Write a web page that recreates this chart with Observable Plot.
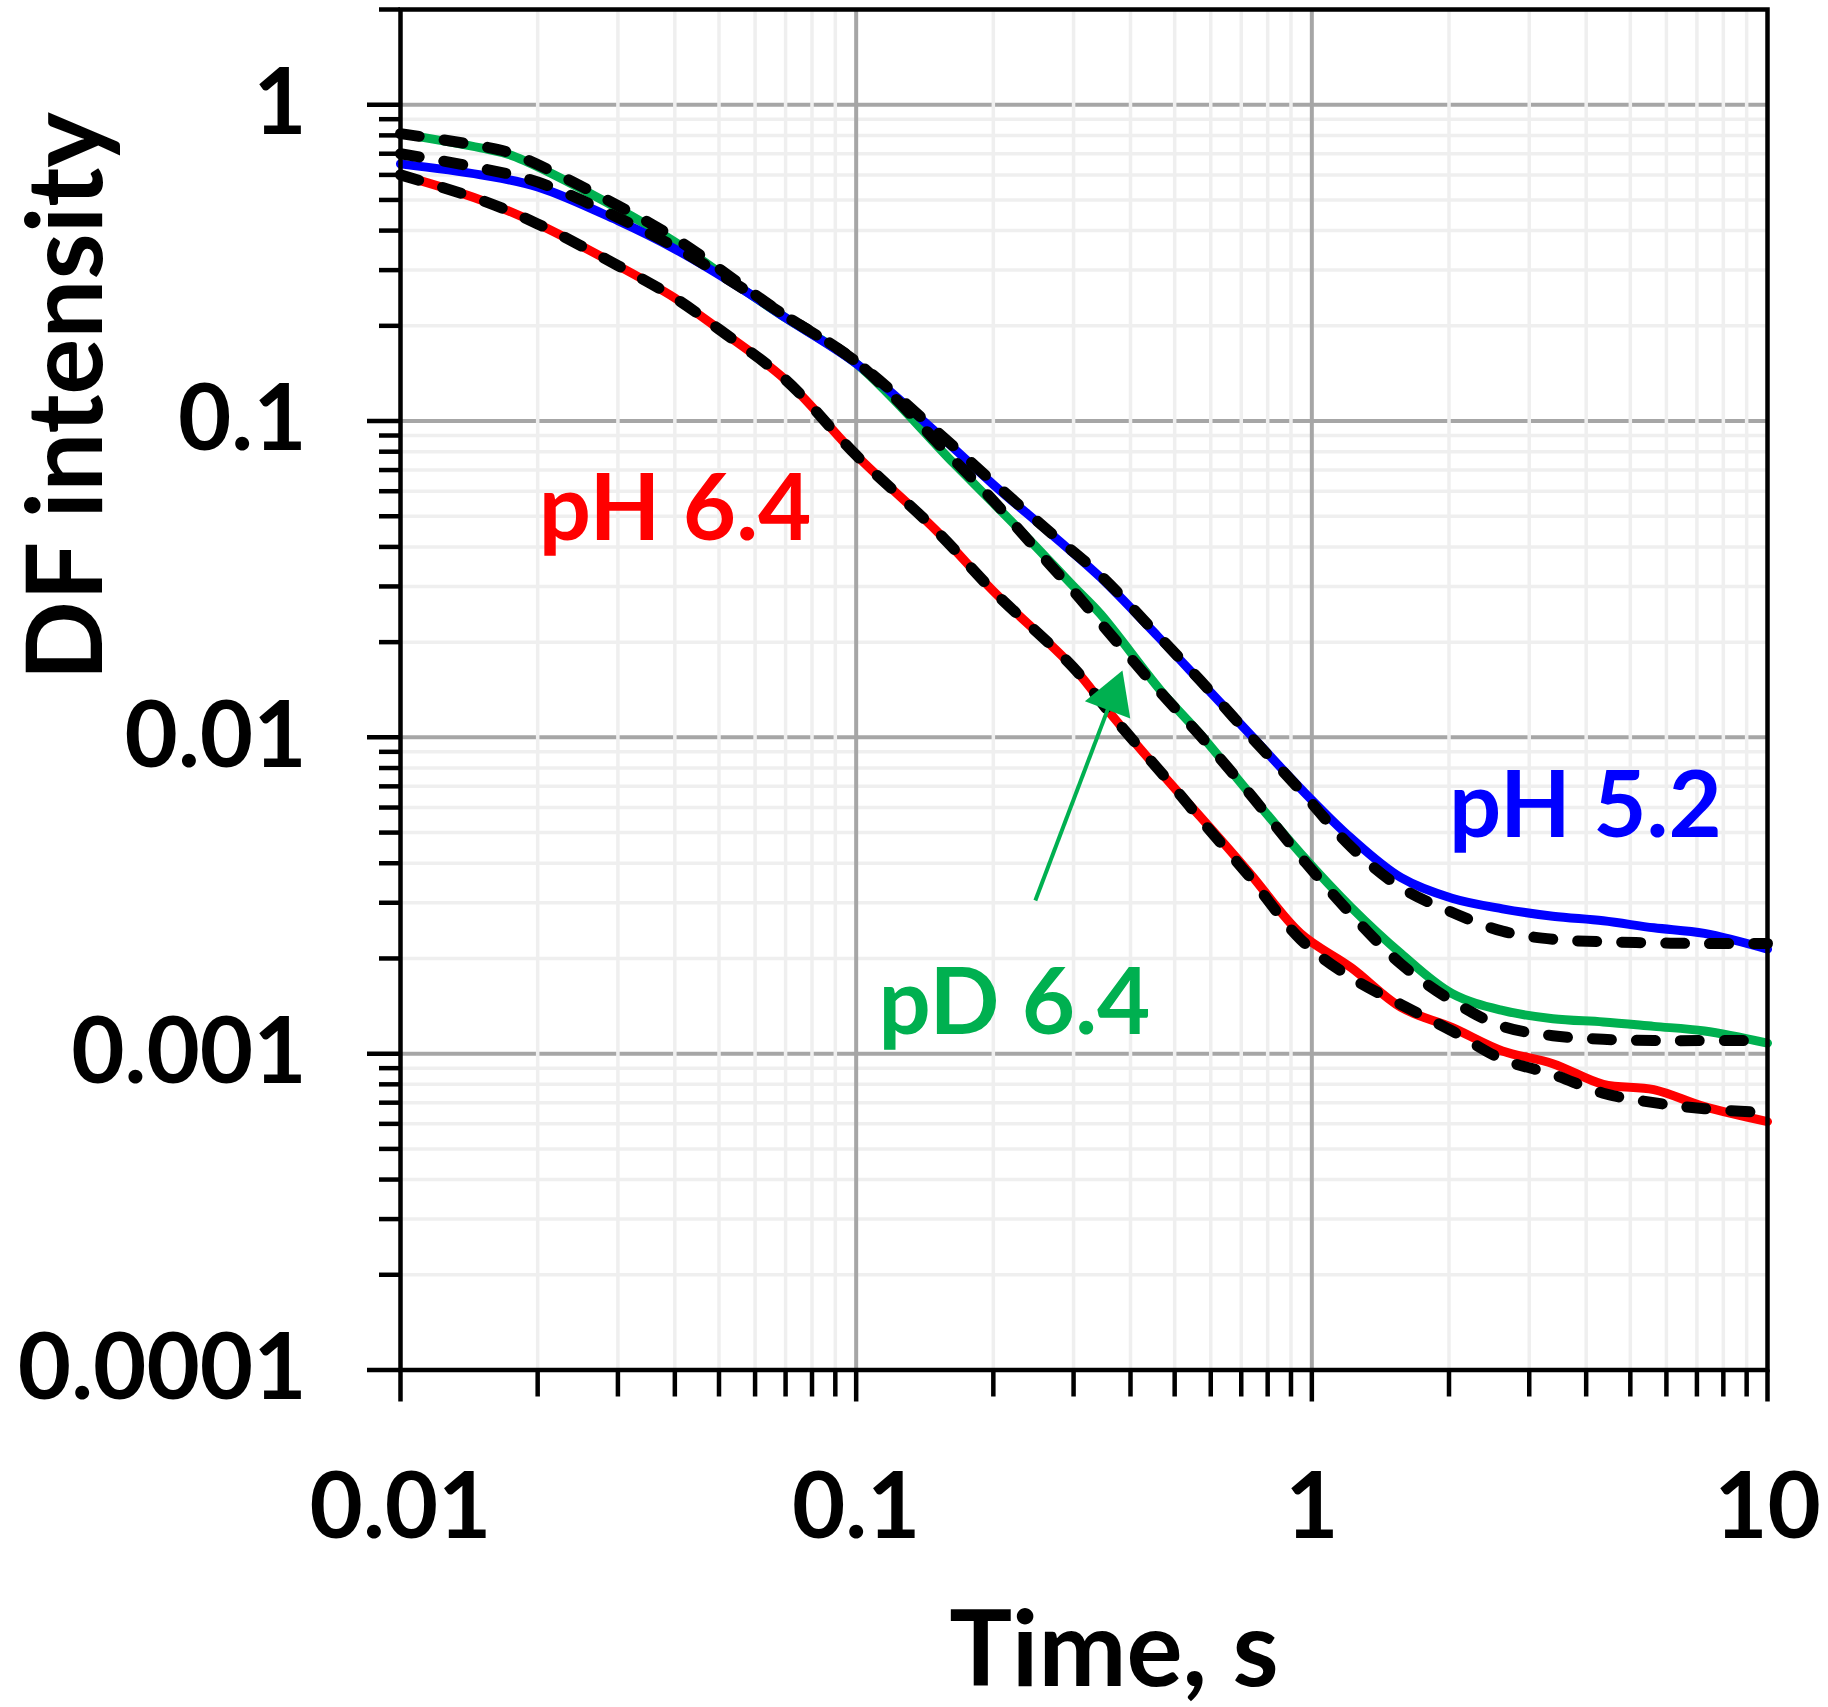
<!DOCTYPE html>
<html>
<head>
<meta charset="utf-8">
<script src="https://cdn.jsdelivr.net/npm/d3@7"></script>
<script src="https://cdn.jsdelivr.net/npm/@observablehq/plot@0.6"></script>
<style>
  html, body { margin: 0; padding: 0; background: #fff; }
  svg { display: block; }
</style>
</head>
<body>
<div id="chart"></div>
<script>
// ---------- data ----------
const tRed    = [0.01, 0.015, 0.02, 0.03, 0.04, 0.05, 0.07, 0.1, 0.15, 0.2, 0.3, 0.363, 0.5, 0.57, 0.733, 0.944, 1.22, 1.57, 2.03, 2.62, 3.38, 4.36, 5.63, 7.27, 10];
const vRed    = [0.60, 0.50, 0.42, 0.31, 0.245, 0.195, 0.135, 0.078, 0.045, 0.029, 0.0166, 0.0118, 0.0069, 0.0056, 0.0037, 0.0024, 0.00187, 0.0014, 0.00121, 0.00102, 0.00093, 0.0008, 0.00077, 0.00068, 0.00061];
const vRedFit = [0.60, 0.50, 0.42, 0.31, 0.245, 0.195, 0.135, 0.078, 0.045, 0.029, 0.0166, 0.0118, 0.0069, 0.0055, 0.0036, 0.0023, 0.00174, 0.00143, 0.00118, 0.00096, 0.00086, 0.00075, 0.0007, 0.00067, 0.00065];

const tBlue    = [0.01, 0.015, 0.02, 0.03, 0.04, 0.0575, 0.07, 0.1, 0.15, 0.2, 0.27, 0.344, 0.46, 0.57, 0.733, 0.944, 1.22, 1.57, 2.03, 2.62, 3.38, 4.36, 5.63, 7.27, 10];
const vBlue    = [0.65, 0.60, 0.55, 0.43, 0.35, 0.256, 0.212, 0.152, 0.092, 0.063, 0.0435, 0.032, 0.0208, 0.015, 0.0102, 0.0069, 0.0048, 0.0036, 0.0031, 0.00287, 0.00272, 0.00263, 0.0025, 0.0024, 0.00214];
const vBlueFit = [0.70, 0.63, 0.57, 0.44, 0.355, 0.258, 0.215, 0.154, 0.093, 0.064, 0.0438, 0.0325, 0.021, 0.0151, 0.0101, 0.0068, 0.0045, 0.00335, 0.0028, 0.00244, 0.0023, 0.00226, 0.00224, 0.00223, 0.00223];

const tGreen    = [0.01, 0.015, 0.0176, 0.03, 0.041, 0.0575, 0.07, 0.1, 0.163, 0.2, 0.242, 0.3, 0.344, 0.467, 0.57, 0.733, 0.944, 1.22, 1.57, 2.03, 2.62, 3.38, 4.36, 5.63, 7.27, 10];
const vGreen    = [0.81, 0.73, 0.69, 0.47, 0.36, 0.256, 0.212, 0.152, 0.074, 0.055, 0.0416, 0.030, 0.0245, 0.014, 0.0102, 0.0066, 0.0043, 0.0029, 0.00207, 0.00155, 0.00137, 0.00129, 0.00126, 0.00122, 0.00118, 0.00108];
const vGreenFit = [0.81, 0.74, 0.70, 0.48, 0.37, 0.262, 0.215, 0.154, 0.076, 0.056, 0.041, 0.029, 0.023, 0.0138, 0.0101, 0.0066, 0.0042, 0.00276, 0.00192, 0.00147, 0.00122, 0.00114, 0.00111, 0.0011, 0.0011, 0.0011];

// tick values and labels
const majorY = [1e-4, 1e-3, 1e-2, 1e-1, 1];
const yTickLabels = ["0.0001", "0.001", "0.01", "0.1", "1"];
const majorX = [0.01, 0.1, 1, 10];
const xTickLabels = ["0.01", "0.1", "1", "10"];
const multipliers = [2, 3, 4, 5, 6, 7, 8, 9];

// annotations (data coordinates)
const labels = [
  {text: "pH 6.4", t: 0.0201, v: 0.052,   color: "#ff0000"},
  {text: "pD 6.4", t: 0.112,  v: 0.00143, color: "#00b050"},
  {text: "pH 5.2", t: 2.0,    v: 0.0060,  color: "#0000ff"}
];
const arrowTail = {t: 0.2473, v: 0.00305};
const arrowTip  = {t: 0.3841, v: 0.01626};

// ---------- build ----------
const minorY = majorY.slice(0, -1).flatMap(d => multipliers.map(m => +(d * m).toPrecision(3))).concat([2]);
const minorX = majorX.slice(0, -1).flatMap(d => multipliers.map(m => +(d * m).toPrecision(3)));

const toRows = (ts, vs) => ts.map((t, i) => ({t, v: vs[i]}));
const red = toRows(tRed, vRed), redFit = toRows(tRed, vRedFit);
const blue = toRows(tBlue, vBlue), blueFit = toRows(tBlue, vBlueFit);
const green = toRows(tGreen, vGreen), greenFit = toRows(tGreen, vGreenFit);

const logLerp = (a, b, f) => Math.pow(10, Math.log10(a) + (Math.log10(b) - Math.log10(a)) * f);
const headBase = {t: logLerp(arrowTip.t, arrowTail.t, 0.16), v: logLerp(arrowTip.v, arrowTail.v, 0.16)};
const headCenter = {t: logLerp(arrowTip.t, arrowTail.t, 0.114), v: logLerp(arrowTip.v, arrowTail.v, 0.114)};

const GREEN = "#00b050", RED = "#ff0000", BLUE = "#0000ff";
const MAJOR = "#a6a6a6", MINOR = "#efefef";
const tickFont = 92, titleFont = 105;
const solid = {strokeWidth: 9, curve: "catmull-rom", strokeLinecap: "round"};
const dash = {stroke: "black", strokeWidth: 11, strokeDasharray: "19,25", strokeLinecap: "round", curve: "catmull-rom"};

const chart = Plot.plot({
  width: 1828,
  height: 1707,
  marginLeft: 400,
  marginRight: 61,
  marginTop: 9,
  marginBottom: 337.5,
  style: {fontFamily: "Lato, 'Open Sans', sans-serif", fontWeight: "bold", background: "#fff", overflow: "visible"},
  x: {type: "log", domain: [0.01, 10], label: null},
  y: {type: "log", domain: [1e-4, 2], label: null},
  marks: [
    Plot.ruleY(minorY, {stroke: MINOR, strokeWidth: 3.5}),
    Plot.ruleY(majorY.slice(1), {stroke: MAJOR, strokeWidth: 4}),
    Plot.ruleX(minorX, {stroke: MINOR, strokeWidth: 3.5}),
    Plot.ruleX([0.1, 1], {stroke: MAJOR, strokeWidth: 4}),

    Plot.line(red,   {x: "t", y: "v", stroke: RED,   ...solid}),
    Plot.line(green, {x: "t", y: "v", stroke: GREEN, ...solid}),
    Plot.line(blue,  {x: "t", y: "v", stroke: BLUE,  ...solid}),
    Plot.line(redFit,   {x: "t", y: "v", ...dash}),
    Plot.line(greenFit, {x: "t", y: "v", ...dash}),
    Plot.line(blueFit,  {x: "t", y: "v", ...dash}),

    Plot.link([0], {x1: () => arrowTail.t, y1: () => arrowTail.v, x2: () => headBase.t, y2: () => headBase.v, stroke: GREEN, strokeWidth: 4}),
    Plot.dot([headCenter], {x: "t", y: "v", symbol: "triangle", r: 18, fill: GREEN, stroke: "none", rotate: 20.7}),

    Plot.text(labels, {x: "t", y: "v", text: "text", fill: "color", fontSize: tickFont, fontWeight: "bold", textAnchor: "start", lineAnchor: "middle"}),

    Plot.frame({stroke: "black", strokeWidth: 4.5}),

    Plot.axisY(minorY, {anchor: "left", tickSize: 21, tickFormat: () => "", strokeWidth: 4.5, stroke: "black"}),
    Plot.axisY(majorY, {anchor: "left", tickSize: 33, tickPadding: 61, tickFormat: d => yTickLabels[majorY.indexOf(d)], strokeWidth: 4.5, stroke: "black", fill: "black", fontSize: tickFont, fontWeight: "bold"}),
    Plot.axisX(minorX, {anchor: "bottom", tickSize: 27, tickFormat: () => "", strokeWidth: 4.5, stroke: "black"}),
    Plot.axisX(majorX, {anchor: "bottom", tickSize: 32, tickPadding: 71, tickFormat: d => xTickLabels[majorX.indexOf(d)], strokeWidth: 4.5, stroke: "black", fill: "black", fontSize: tickFont, fontWeight: "bold"}),

    Plot.text(["Time, s"], {frameAnchor: "bottom", dx: 30, dy: 282, text: d => d, fontSize: titleFont, fontWeight: "bold", fill: "black", lineAnchor: "middle", textAnchor: "middle"}),
    Plot.text(["DF intensity"], {frameAnchor: "top-left", rotate: -90, dx: -332, dy: 387, text: d => d, fontSize: titleFont, fontWeight: "bold", fill: "black", lineAnchor: "middle", textAnchor: "middle"})
  ]
});

document.getElementById("chart").appendChild(chart);
</script>
</body>
</html>
